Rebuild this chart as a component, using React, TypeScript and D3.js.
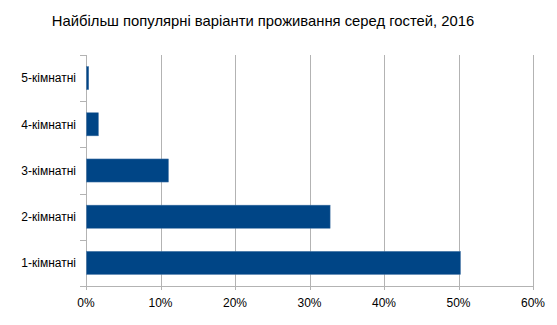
import React from 'react';
import * as d3 from 'd3';

const categories = ['5-кімнатні', '4-кімнатні', '3-кімнатні', '2-кімнатні', '1-кімнатні'];
const shares = [0.3, 1.6, 11.0, 32.7, 50.2];
const xTicks = [0, 10, 20, 30, 40, 50, 60];
const title = 'Найбільш популярні варіанти проживання серед гостей, 2016';

const App = () => {
    const svgRef = React.useRef<SVGSVGElement>(null);

    const W = 557;
    const H = 325;
    const margin = { top: 55, right: 24, bottom: 39, left: 86 };

    React.useEffect(() => {
        const svg = d3.select(svgRef.current);
        svg.selectAll('*').remove();

        const width = W - margin.left - margin.right;
        const height = H - margin.top - margin.bottom;
        const font = 'Liberation Sans, Arial, sans-serif';

        svg.append('rect').attr('width', W).attr('height', H).attr('fill', '#fff');

        svg.append('text')
            .attr('x', 263)
            .attr('y', 26)
            .attr('text-anchor', 'middle')
            .style('font-family', font)
            .style('font-size', '14.8px')
            .attr('fill', '#000')
            .text(title);

        const g = svg.append('g').attr('transform', `translate(${margin.left},${margin.top})`);

        const x = d3.scaleLinear().domain([0, 60]).range([0, width]);
        const y = d3.scaleBand().domain(categories).range([0, height]).paddingInner(0.5).paddingOuter(0.25);

        // gridlines
        g.append('g')
            .selectAll('line')
            .data(xTicks)
            .enter()
            .append('line')
            .attr('x1', (d) => Math.round(x(d)) + 0.5)
            .attr('x2', (d) => Math.round(x(d)) + 0.5)
            .attr('y1', 0)
            .attr('y2', height + 4)
            .attr('stroke', '#b3b3b3');

        // y axis ticks at band edges
        const edges = d3.range(categories.length + 1).map((i) => (i * height) / categories.length);
        g.append('g')
            .selectAll('line')
            .data(edges)
            .enter()
            .append('line')
            .attr('x1', -6)
            .attr('x2', 0)
            .attr('y1', (d) => Math.round(d) + 0.5)
            .attr('y2', (d) => Math.round(d) + 0.5)
            .attr('stroke', '#b3b3b3');

        // bottom axis line
        g.append('line')
            .attr('x1', -6)
            .attr('x2', width + 1)
            .attr('y1', height + 0.5)
            .attr('y2', height + 0.5)
            .attr('stroke', '#b3b3b3');

        // bars
        g.append('g')
            .selectAll('rect')
            .data(shares)
            .enter()
            .append('rect')
            .attr('x', x(0) + 0.5)
            .attr('y', (d, i) => y(categories[i])!)
            .attr('width', (d) => x(d) - x(0))
            .attr('height', y.bandwidth())
            .attr('fill', '#004586')
            .attr('stroke', '#4a78a8')
            .attr('stroke-width', 0.5);

        // category labels
        g.append('g')
            .selectAll('text')
            .data(categories)
            .enter()
            .append('text')
            .attr('x', -10)
            .attr('y', (d) => y(d)! + y.bandwidth() / 2)
            .attr('dy', '0.35em')
            .attr('text-anchor', 'end')
            .style('font-family', font)
            .style('font-size', '12px')
            .text((d) => d);

        // x tick labels
        g.append('g')
            .selectAll('text')
            .data(xTicks)
            .enter()
            .append('text')
            .attr('x', (d) => x(d))
            .attr('y', height + 21)
            .attr('text-anchor', 'middle')
            .style('font-family', font)
            .style('font-size', '12px')
            .text((d) => d + '%');

    // eslint-disable-next-line react-hooks/exhaustive-deps
    }, []);

    return <svg ref={svgRef} width={W} height={H} style={{ display: 'block', margin: '-8px' }} />;
};

export default App;
